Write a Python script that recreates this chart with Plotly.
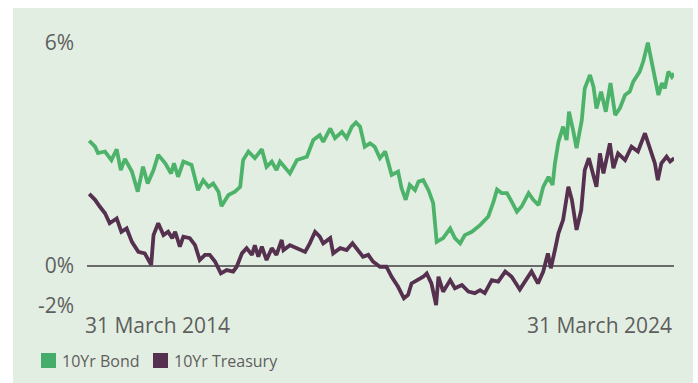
import pandas as pd
import plotly.graph_objects as go

# ---- data (decimal years, yield in %) ----
bond_t = [2014.25, 2014.35, 2014.40, 2014.52, 2014.63, 2014.72, 2014.79, 2014.86, 2014.98, 2015.08,
          2015.17, 2015.25, 2015.35, 2015.43, 2015.55, 2015.65, 2015.70, 2015.77, 2015.86, 2016.00,
          2016.11, 2016.20, 2016.29, 2016.37, 2016.46, 2016.51, 2016.63, 2016.74, 2016.83, 2016.88,
          2016.97, 2017.08, 2017.20, 2017.28, 2017.37, 2017.45, 2017.51, 2017.68, 2017.80, 2017.97,
          2018.08, 2018.19, 2018.25, 2018.37, 2018.45, 2018.57, 2018.65, 2018.74, 2018.81, 2018.88,
          2018.96, 2019.05, 2019.13, 2019.22, 2019.31, 2019.42, 2019.53, 2019.59, 2019.66, 2019.73,
          2019.82, 2019.88, 2019.96, 2020.05, 2020.13, 2020.19, 2020.30, 2020.42, 2020.50, 2020.59,
          2020.67, 2020.79, 2020.93, 2021.07, 2021.16, 2021.22, 2021.30, 2021.39, 2021.47, 2021.56,
          2021.64, 2021.76, 2021.84, 2021.93, 2022.01, 2022.10, 2022.17, 2022.21, 2022.27, 2022.35,
          2022.41, 2022.45, 2022.52, 2022.58, 2022.67, 2022.72, 2022.81, 2022.87, 2022.92, 2023.00,
          2023.08, 2023.16, 2023.24, 2023.32, 2023.41, 2023.49, 2023.55, 2023.66, 2023.72, 2023.80,
          2023.87, 2023.92, 2023.98, 2024.04, 2024.09, 2024.15, 2024.21, 2024.25]
bond_yield = [3.37, 3.21, 3.04, 3.08, 2.85, 3.14, 2.58, 2.88, 2.54, 2.00,
              2.67, 2.22, 2.58, 2.99, 2.76, 2.49, 2.76, 2.40, 2.81, 2.72,
              2.04, 2.31, 2.13, 2.22, 2.00, 1.61, 1.91, 2.00, 2.13, 2.85,
              3.08, 2.90, 3.14, 2.67, 2.81, 2.58, 2.81, 2.49, 2.85, 2.94,
              3.39, 3.52, 3.34, 3.70, 3.44, 3.61, 3.44, 3.75, 3.86, 3.75,
              3.21, 3.30, 3.21, 2.90, 3.08, 2.45, 2.54, 2.09, 1.78, 2.18,
              2.04, 2.27, 2.31, 2.04, 1.69, 0.65, 0.75, 1.01, 0.75, 0.61,
              0.83, 0.92, 1.10, 1.33, 1.73, 2.06, 1.96, 1.96, 1.73, 1.46,
              1.60, 1.96, 1.78, 1.64, 2.13, 2.40, 2.18, 2.76, 3.34, 3.75,
              3.39, 4.15, 3.66, 3.17, 3.93, 4.78, 5.14, 4.82, 4.24, 4.69,
              4.15, 4.92, 4.06, 4.24, 4.60, 4.69, 4.96, 5.23, 5.50, 6.01,
              5.45, 5.05, 4.60, 4.92, 4.78, 5.23, 5.09, 5.18]

treasury_t = [2014.25, 2014.35, 2014.43, 2014.52, 2014.60, 2014.72, 2014.80, 2014.89, 2014.98, 2015.09,
              2015.20, 2015.31, 2015.35, 2015.43, 2015.52, 2015.60, 2015.67, 2015.72, 2015.80, 2015.86,
              2015.97, 2016.06, 2016.14, 2016.23, 2016.31, 2016.40, 2016.50, 2016.60, 2016.71, 2016.77,
              2016.86, 2016.94, 2017.03, 2017.08, 2017.14, 2017.20, 2017.28, 2017.37, 2017.45, 2017.54,
              2017.57, 2017.68, 2017.80, 2017.94, 2018.02, 2018.11, 2018.19, 2018.25, 2018.37, 2018.42,
              2018.54, 2018.65, 2018.75, 2018.85, 2018.93, 2019.02, 2019.10, 2019.22, 2019.33, 2019.42,
              2019.53, 2019.63, 2019.70, 2019.76, 2019.87, 2019.96, 2020.02, 2020.10, 2020.18, 2020.22,
              2020.30, 2020.42, 2020.50, 2020.62, 2020.73, 2020.84, 2020.93, 2021.01, 2021.13, 2021.24,
              2021.36, 2021.47, 2021.61, 2021.73, 2021.81, 2021.92, 2022.01, 2022.09, 2022.14, 2022.21,
              2022.27, 2022.35, 2022.44, 2022.50, 2022.58, 2022.66, 2022.72, 2022.79, 2022.87, 2022.92,
              2022.98, 2023.04, 2023.15, 2023.21, 2023.29, 2023.41, 2023.52, 2023.63, 2023.75, 2023.83,
              2023.92, 2023.97, 2024.03, 2024.12, 2024.18, 2024.25]
treasury_yield = [1.94, 1.78, 1.60, 1.42, 1.15, 1.28, 0.92, 1.01, 0.65, 0.38,
                  0.34, 0.03, 0.83, 1.15, 0.83, 0.92, 0.75, 0.92, 0.52, 0.79,
                  0.75, 0.56, 0.16, 0.30, 0.30, 0.12, -0.20, -0.11, -0.15, -0.02,
                  0.34, 0.48, 0.30, 0.56, 0.25, 0.52, 0.16, 0.48, 0.30, 0.70,
                  0.43, 0.56, 0.48, 0.38, 0.61, 0.92, 0.79, 0.61, 0.75, 0.34,
                  0.48, 0.43, 0.61, 0.43, 0.25, 0.30, 0.12, -0.02, -0.02, -0.29,
                  -0.56, -0.87, -0.78, -0.47, -0.38, -0.29, -0.20, -0.47, -1.05, -0.29,
                  -0.69, -0.38, -0.60, -0.51, -0.69, -0.73, -0.65, -0.73, -0.38, -0.42,
                  -0.15, -0.29, -0.63, -0.33, -0.15, -0.47, -0.15, 0.34, -0.06, 0.43,
                  0.88, 1.24, 2.13, 1.78, 0.97, 1.51, 2.58, 2.90, 2.40, 2.13,
                  3.03, 2.49, 3.30, 2.63, 3.03, 2.85, 3.21, 3.08, 3.57, 3.21,
                  2.76, 2.31, 2.76, 2.94, 2.81, 2.90]

series_names = ["10Yr Bond", "10Yr Treasury"]
x_labels = ["31 March 2014", "31 March 2024"]
y_tick_vals = [6, 0, -1.076]
y_tick_text = ["6%", "0%", "-2%"]

GREEN = "#4db36a"
SWATCH_GREEN = "#45ad6b"
PURPLE = "#55304f"
BG = "#e3eee2"
TXT = "#5e5e5e"
FONT = "Open Sans"

# plot-area geometry in pixels (used to place the off-plot decorations)
L, R, T, B, W, H = 87, 24, 30, 53, 698, 383
PW, PH = W - L - R, H - T - B


def px(xp):
    return (xp - L) / PW


def py(yp):
    return (H - B - yp) / PH


def to_date(v):
    y = int(v)
    s = pd.Timestamp(y, 1, 1)
    e = pd.Timestamp(y + 1, 1, 1)
    return s + (e - s) * (v - y)


fig = go.Figure()
fig.add_trace(go.Scatter(x=[to_date(v) for v in bond_t], y=bond_yield, mode="lines",
                         line=dict(color=GREEN, width=3.8), name=series_names[0]))
fig.add_trace(go.Scatter(x=[to_date(v) for v in treasury_t], y=treasury_yield, mode="lines",
                         line=dict(color=PURPLE, width=3.8), name=series_names[1]))

# light green card behind the chart
fig.add_shape(type="rect", xref="paper", yref="paper", x0=px(13), x1=px(693), y0=py(390), y1=py(8),
              fillcolor=BG, line=dict(width=0), layer="below")

# legend: square swatches + labels
legend_items = [(series_names[0], SWATCH_GREEN, 41, 60), (series_names[1], PURPLE, 153, 172)]
for name, col, sx, tx in legend_items:
    fig.add_shape(type="rect", xref="paper", yref="paper", x0=px(sx), x1=px(sx + 15),
                  y0=py(368), y1=py(353), fillcolor=col, line=dict(width=0))
    fig.add_annotation(text=name, xref="paper", yref="paper", x=px(tx), y=py(361),
                       xanchor="left", yanchor="middle", showarrow=False,
                       font=dict(family=FONT, size=16, color=TXT))

# date labels under the axis ends
fig.add_annotation(text=x_labels[0], xref="paper", yref="paper", x=px(83), y=py(325),
                   xanchor="left", yanchor="middle", showarrow=False,
                   font=dict(family=FONT, size=21, color=TXT))
fig.add_annotation(text=x_labels[1], xref="paper", yref="paper", x=px(674), y=py(325),
                   xanchor="right", yanchor="middle", showarrow=False,
                   font=dict(family=FONT, size=21, color=TXT))

fig.update_layout(
    width=W, height=H,
    margin=dict(l=L, r=R, t=T, b=B),
    paper_bgcolor="white", plot_bgcolor="rgba(0,0,0,0)",
    font=dict(family=FONT, color=TXT),
    showlegend=False,
    xaxis=dict(range=[to_date(2014.212), to_date(2024.246)], showgrid=False, showticklabels=False,
               zeroline=False, showline=False, ticks=""),
    yaxis=dict(range=[-1.722, 6.349], tickvals=y_tick_vals, ticktext=y_tick_text, showgrid=False,
               zeroline=True, zerolinecolor="#6a6a6a", zerolinewidth=1.5, showline=False, ticks="",
               ticklabelstandoff=12, tickfont=dict(family=FONT, size=21, color=TXT)),
)

fig.write_html("out.html")
